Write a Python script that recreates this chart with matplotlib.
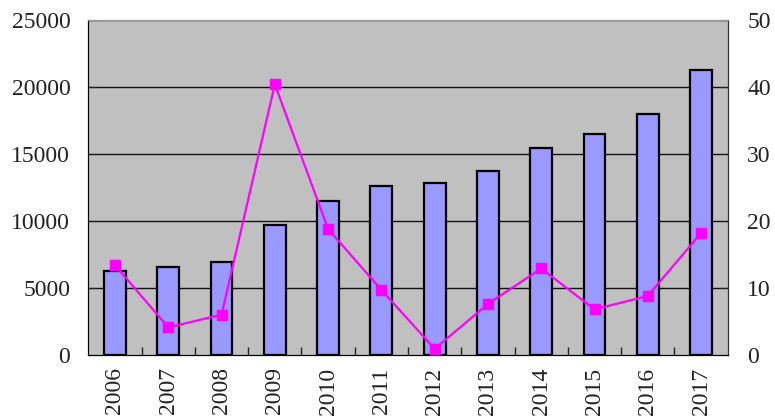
import numpy as np
import matplotlib.pyplot as plt

plt.rcParams['font.family'] = ['Liberation Serif', 'DejaVu Serif']

years = ['2006', '2007', '2008', '2009', '2010', '2011',
         '2012', '2013', '2014', '2015', '2016', '2017']
bar_vals = [6250, 6550, 6900, 9700, 11500, 12600,
            12800, 13700, 15450, 16500, 17950, 21250]
line_vals = [13.4, 4.1, 6.0, 40.4, 18.8, 9.7,
             0.9, 7.6, 12.9, 6.8, 8.8, 18.2]

x = np.arange(len(years))

fig = plt.figure(figsize=(7.75, 4.18), dpi=100)
ax = fig.add_axes([0.114, 0.151, 0.825, 0.801])
ax.set_facecolor('#C0C0C0')

# 网格线
for v in range(5000, 25001, 5000):
    ax.axhline(v, color='#111111', lw=1.0, zorder=1)

ax.bar(x, bar_vals, width=0.41, color='#9999FF', edgecolor='black', linewidth=1.6, zorder=2)
ax.set_xlim(-0.5, len(years) - 0.5)
ax.set_ylim(0, 25000)
ax.set_yticks(range(0, 25001, 5000))
ax.set_xticks(x)
ax.set_xticklabels(years, rotation=90)
ax.set_xticks(np.arange(0.5, len(years) - 1, 1), minor=True)
ax.tick_params(axis='x', which='major', length=0, labelsize=17, pad=9, colors='#222222')
ax.tick_params(axis='x', which='minor', direction='in', length=6, width=1, color='#222222')
ax.tick_params(axis='y', direction='in', length=6, labelsize=17, pad=13, colors='#222222')

ax2 = ax.twinx()
ax2.plot(x, line_vals, color='#FF00FF', lw=1.6, marker='s', markersize=7.5, zorder=3)
ax2.set_ylim(0, 50)
ax2.set_yticks(range(0, 51, 10))
ax2.tick_params(axis='y', direction='in', length=6, labelsize=17, pad=14, colors='#222222')

for a in (ax, ax2):
    a.spines['top'].set_color('#999999')
    a.spines['left'].set_color('black')
    a.spines['bottom'].set_color('black')
    a.spines['right'].set_color('#333333')

plt.savefig('out.png', dpi=100)
